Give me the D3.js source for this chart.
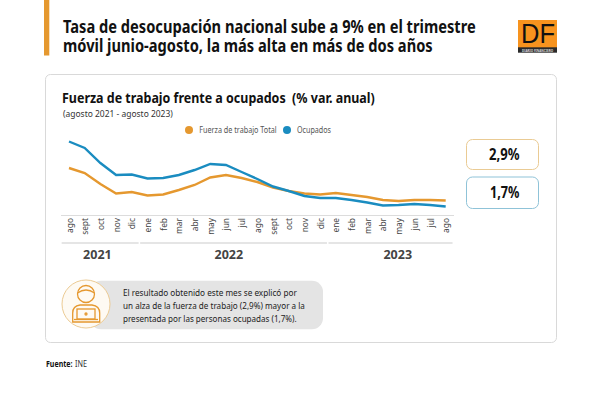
<!DOCTYPE html>
<html>
<head>
<meta charset="utf-8">
<script src="https://cdn.jsdelivr.net/npm/d3@7"></script>
<style>
html, body { margin: 0; padding: 0; background: #fff; }
svg { display: block; }
text { font-family: "Noto Sans", sans-serif; white-space: pre; }
</style>
</head>
<body>
<svg width="600" height="394"></svg>
<script>
const months = ['ago','sept','oct','nov','dic','ene','feb','mar','abr','may','jun','jul','ago','sept','oct','nov','dic','ene','feb','mar','abr','may','jun','jul','ago']
const fuerza = [9.4,8.4,6.2,4.3,4.6,3.9,4.1,5.0,6.0,7.5,8.0,7.4,6.6,5.5,4.8,4.3,4.1,4.4,4.0,3.6,3.0,2.8,3.0,3.0,2.9]
const ocupados = [14.7,13.4,10.4,8.0,8.1,7.3,7.4,8.0,9.0,10.2,10.0,8.6,7.2,5.7,4.8,3.8,3.4,3.4,3.0,2.5,1.9,2.0,2.2,2.0,1.7]
const yearLabels = ['2021', '2022', '2023']
const yearFirst = [0, 5, 17]
const yearLast = [4, 16, 24]
const titleLines = ['Tasa de desocupación nacional sube a 9% en el trimestre', 'móvil junio-agosto, la más alta en más de dos años']

const orange = '#e5982f'
const blue = '#1a8cc0'

const svg = d3.select('svg')

const x = d3.scalePoint().domain(d3.range(months.length)).range([69, 445.7])
const y = d3.scaleLinear([0, 20], [215, 115])

// condensed font is not installed, so squeeze the text to its width in the picture
function label(px, py, str, size, width, opts = {}) {
    const t = svg.append('text')
        .attr('font-size', size)
        .attr('font-weight', opts.weight || 400)
        .attr('fill', opts.fill || '#333')
        .style('font-family', opts.font || null)
        .text(str)
    const sx = width / t.node().getComputedTextLength()
    t.attr('transform', `translate(${px},${py}) scale(${sx},1)`)
    return t
}

// header
svg.append('rect').attr('x', 44).attr('y', 0).attr('width', 5.3).attr('height', 55.5).attr('fill', orange)
const title = label(63, 33, titleLines[0], 18, 413, {weight: 700, fill: '#111'})
title.text(null)
title.selectAll('tspan').data(titleLines).enter().append('tspan')
    .attr('x', 0)
    .attr('dy', (d, i) => i ? 19 : 0)
    .text(d => d)

// logo
svg.append('rect').attr('x', 518).attr('y', 20).attr('width', 39).attr('height', 28).attr('fill', '#f7931e')
svg.append('rect').attr('x', 518).attr('y', 47.3).attr('width', 39).attr('height', 5.4).attr('fill', '#2a2a2a')
label(521, 43, 'DF', 28, 34, {fill: '#111', font: '"Liberation Sans", sans-serif'})
label(522, 52, 'DIARIO FINANCIERO', 2.6, 31, {fill: '#ddd', weight: 700})

// card
svg.append('rect').attr('x', 45.5).attr('y', 74.5).attr('width', 511).attr('height', 268).attr('rx', 5)
    .attr('fill', '#fff').attr('stroke', '#d9d9d9')

label(62, 102.5, 'Fuerza de trabajo frente a ocupados  (% var. anual)', 14.6, 313, {weight: 700, fill: '#111'})
label(63, 117, '(agosto 2021 - agosto 2023)', 9.5, 110, {fill: '#333'})

// legend
svg.append('circle').attr('cx', 189).attr('cy', 130).attr('r', 4).attr('fill', orange)
label(199.3, 133, 'Fuerza de trabajo Total', 8.5, 77.5, {fill: '#555'})
svg.append('circle').attr('cx', 287).attr('cy', 130).attr('r', 4).attr('fill', blue)
label(297, 133, 'Ocupados', 8.5, 34, {fill: '#555'})

// lines
const line = d3.line().x((d, i) => x(i)).y(d => y(d))
svg.append('path').attr('d', line(fuerza)).attr('fill', 'none').attr('stroke', orange).attr('stroke-width', 2.4)
svg.append('path').attr('d', line(ocupados)).attr('fill', 'none').attr('stroke', blue).attr('stroke-width', 2.4)

// month axis
svg.append('line').attr('x1', 61).attr('x2', 454).attr('y1', 215.5).attr('y2', 215.5).attr('stroke', '#dcdcdc')
svg.append('g').selectAll('text').data(months).enter().append('text')
    .attr('transform', (d, i) => `translate(${x(i) + 3.5},218) rotate(-90) scale(0.88,1)`)
    .attr('text-anchor', 'end')
    .attr('font-size', 9.5)
    .attr('fill', '#444')
    .text(d => d)

// year brackets
const step = x.step()
const yearShift = [-3, -5, 7]
svg.append('g').selectAll('line').data(yearLabels).enter().append('line')
    .attr('x1', (d, i) => x(yearFirst[i]) - step / 2 + 0.5)
    .attr('x2', (d, i) => x(yearLast[i]) + step / 2 - 1)
    .attr('y1', 243).attr('y2', 243)
    .attr('stroke', '#ddd').attr('stroke-width', 1.5)
svg.append('g').selectAll('text').data(yearLabels).enter().append('text')
    .attr('x', (d, i) => (x(yearFirst[i]) + x(yearLast[i])) / 2 + yearShift[i])
    .attr('y', 258.5)
    .attr('text-anchor', 'middle')
    .attr('font-size', 12.5)
    .attr('font-weight', 700)
    .attr('fill', '#444')
    .text(d => d)

// value boxes
svg.append('rect').attr('x', 466.5).attr('y', 139.5).attr('width', 72).attr('height', 30).attr('rx', 6)
    .attr('fill', '#fff').attr('stroke', '#eacb94')
svg.append('rect').attr('x', 466.5).attr('y', 177).attr('width', 72).attr('height', 31.5).attr('rx', 6)
    .attr('fill', '#fff').attr('stroke', '#8fc3d8')
label(489, 160, '2,9%', 15.5, 30.5, {weight: 700, fill: '#111'})
label(490, 198, '1,7%', 15.5, 29.5, {weight: 700, fill: '#111'})

// note
svg.append('rect').attr('x', 90).attr('y', 280.7).attr('width', 233).attr('height', 48.5).attr('rx', 11).attr('fill', '#e4e4e4')
svg.append('circle').attr('cx', 86).attr('cy', 304).attr('r', 24).attr('fill', '#fefaf3').attr('stroke', '#eccb94')
const icon = svg.append('g').attr('fill', 'none').attr('stroke', orange).attr('stroke-width', 1.3)
icon.append('path').attr('d', 'M72.7 322 V313 Q72.7 306 80 305 H92 Q99.7 306 99.7 313 V322 Z')
icon.append('circle').attr('cx', 86).attr('cy', 294).attr('r', 8.5).attr('fill', '#fefaf3')
icon.append('path').attr('d', 'M77.5 293 Q86 287 94.5 293')
icon.append('rect').attr('x', 77).attr('y', 309).attr('width', 18).attr('height', 10).attr('fill', '#fefaf3')
icon.append('path').attr('d', 'M74 319.5 H98')
icon.append('circle').attr('cx', 86).attr('cy', 314).attr('r', 1)

label(123, 296, 'El resultado obtenido este mes se explicó por', 9.5, 174, {fill: '#222'})
label(123, 309, 'un alza de la fuerza de trabajo (2,9%) mayor a la', 9.5, 182, {fill: '#222'})
label(123, 322, 'presentada por las personas ocupadas (1,7%).', 9.5, 174, {fill: '#222'})

// source
label(46, 367, 'Fuente:', 9.5, 26.5, {weight: 700, fill: '#111'})
label(75, 367, 'INE', 9.5, 12, {fill: '#333'})
</script>
</body>
</html>
